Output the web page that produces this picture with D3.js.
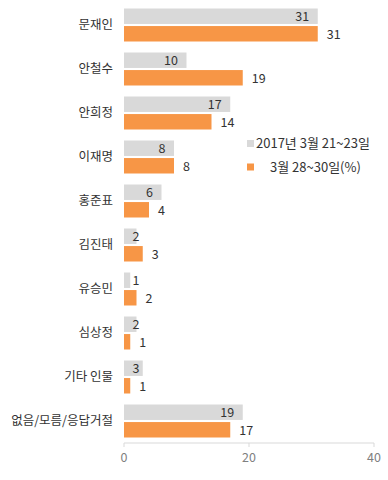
<!DOCTYPE html>
<html>
<head>
<meta charset="utf-8">
<script src="https://cdn.jsdelivr.net/npm/d3@7"></script>
<style>
  body { margin: 0; background: #fff; }
  svg { display: block; font-family: "Noto Sans CJK KR", "Noto Sans", sans-serif; }
</style>
</head>
<body>
<div id="chart"></div>
<script>
// data
const categories = ["문재인", "안철수", "안희정", "이재명", "홍준표", "김진태", "유승민", "심상정", "기타 인물", "없음/모름/응답거절"];
const prevValues = [31, 10, 17, 8, 6, 2, 1, 2, 3, 19];
const currValues = [31, 19, 14, 8, 4, 3, 2, 1, 1, 17];
const seriesNames = ["2017년 3월 21~23일", "3월 28~30일(%)"];
const xTicks = [0, 20, 40];

const width = 388, height = 480;
const colors = ["#d9d9d9", "#f79646"];

const svg = d3.select("#chart").append("svg")
  .attr("width", width)
  .attr("height", height);

const x = d3.scaleLinear().domain([0, 40]).range([124, 374]);
const y = d3.scaleBand().domain(categories).range([3, 443])
  .paddingInner(0.25).paddingOuter(0.125);
const ySub = d3.scaleBand().domain([0, 1]).range([0, y.bandwidth()]).paddingInner(0.12);

const rows = categories.map((c, i) => ({ cat: c, vals: [prevValues[i], currValues[i]] }));

//axis line + ticks
const axisG = svg.append("g").attr("transform", "translate(0,443)");
axisG.append("line")
  .attr("x1", x(0)).attr("x2", x(40))
  .attr("stroke", "#d9d9d9");
axisG.selectAll(".tick").data(xTicks).enter().append("line")
  .attr("x1", d => x(d)).attr("x2", d => x(d))
  .attr("y1", 0).attr("y2", 4)
  .attr("stroke", "#d9d9d9");
axisG.selectAll(".tickLabel").data(xTicks).enter().append("text")
  .attr("x", d => x(d))
  .attr("y", 15)
  .attr("dy", "0.35em")
  .attr("text-anchor", "middle")
  .style("font-size", "12.5px")
  .style("fill", "#808080")
  .text(d => d);

//groups
const group = svg.selectAll(".grp").data(rows).enter().append("g")
  .attr("transform", d => "translate(0," + y(d.cat) + ")");

group.append("text")
  .attr("x", 113)
  .attr("y", y.bandwidth() / 2)
  .attr("dy", "0.35em")
  .attr("text-anchor", "end")
  .style("font-size", "12.5px")
  .style("fill", "#333")
  .text(d => d.cat);

group.selectAll("rect")
  .data(d => d.vals)
  .enter().append("rect")
  .attr("x", x(0))
  .attr("y", (d, i) => ySub(i))
  .attr("width", d => x(d) - x(0))
  .attr("height", ySub.bandwidth())
  .attr("fill", (d, i) => colors[i]);

group.selectAll(".val")
  .data(d => d.vals)
  .enter().append("text")
  .attr("x", (d, i) => i === 0 ? Math.max(x(d) - 8.5, 139.5) : x(d) + 9)
  .attr("y", (d, i) => ySub(i) + ySub.bandwidth() / 2 + 0.5)
  .attr("dy", "0.35em")
  .attr("text-anchor", (d, i) => i === 0 ? "end" : "start")
  .style("font-size", "12.5px")
  .style("fill", "#333")
  .text(d => d);

//legend
const legend = svg.selectAll(".legend").data(seriesNames).enter().append("g")
  .attr("transform", (d, i) => "translate(247," + (143.5 + i * 23.5) + ")");
legend.append("rect")
  .attr("x", 0).attr("y", -3.5)
  .attr("width", 7).attr("height", 7)
  .attr("fill", (d, i) => colors[i]);
legend.append("text")
  .attr("x", (d, i) => i === 0 ? 9 : 23)
  .attr("y", 0)
  .attr("dy", "0.35em")
  .style("font-size", "13px")
  .style("fill", "#333")
  .text(d => d);
</script>
</body>
</html>
